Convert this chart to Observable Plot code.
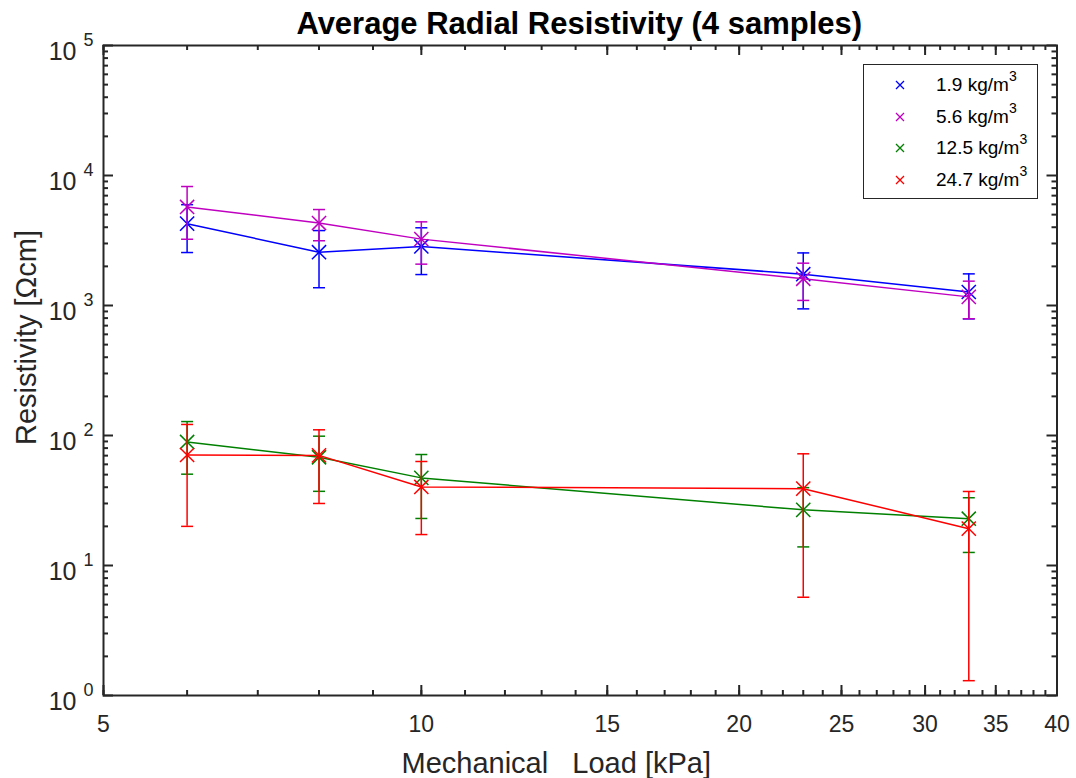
<!DOCTYPE html>
<html>
<head>
<meta charset="utf-8">
<script src="https://cdn.jsdelivr.net/npm/d3@7"></script>
<script src="https://cdn.jsdelivr.net/npm/@observablehq/plot@0.6"></script>
<style>
  html, body { margin: 0; padding: 0; background: #fff; }
  #wrap { position: relative; width: 1076px; height: 778px; font-family: "Liberation Sans", Arial, sans-serif; }
  #legend { position: absolute; left: 863px; top: 64px; width: 173px; height: 133px; border: 1px solid #262626; background: #fff; }
  .row { position: absolute; left: 0; height: 24px; width: 173px; }
  .row svg { position: absolute; left: 31px; top: 7px; }
  .row span { position: absolute; left: 72px; top: 0px; font-size: 19px; color: #000; white-space: nowrap; line-height: 24px; }
  .row sup { font-size: 14px; position: relative; top: -3px; vertical-align: super; line-height: 0; }
</style>
</head>
<body>
<div id="wrap"></div>
<script>
// ---- data ----
const loads = [6, 8, 10, 23, 33];                       // Mechanical load [kPa]
const densities = ["1.9", "5.6", "12.5", "24.7"];        // kg/m^3
const colors = ["#0000ff", "#c000c0", "#008000", "#ff0000"];

const mean19 = [4260, 2570, 2845, 1740, 1270];
const err19  = [1705, 1200, 1115, 798, 481];
const mean56 = [5730, 4310, 3240, 1605, 1165];
const err56  = [2497, 1162, 1160, 511, 374];
const mean125 = [89.2, 68.0, 47.2, 26.8, 22.9];
const err125  = [38.8, 30.8, 24.2, 12.9, 10.3];
const mean247 = [70.8, 70.3, 40.2, 39.0, 19.2];
const err247  = [50.8, 40.3, 22.9, 33.3, 17.9];

const xMajor = [5, 10, 15, 20, 25, 30, 35, 40];
const xMinor = d3.range(5, 41);
const yExp = [0, 1, 2, 3, 4, 5];
const yMinor = [1, 10, 100, 1000, 10000].flatMap(b => [2,3,4,5,6,7,8,9].map(k => k * b));

const titleText = "Average Radial Resistivity (4 samples)";
const xLabel = "Mechanical\u00a0\u00a0\u00a0Load [kPa]";
const yLabel = "Resistivity [\u03a9cm]";

// ---- build ----
const means = [mean19, mean56, mean125, mean247];
const errs = [err19, err56, err125, err247];
const seriesRows = means.map((m, s) => loads.map((x, i) => ({x, m: m[i], e: errs[s][i], s})));

const W = 1076, H = 778;
const mL = 103, mR = 19.5, mT = 45, mB = 83;
const pw = W - mL - mR, ph = H - mT - mB;
const axisColor = "#262626";
const cap = {draw(ctx) { ctx.moveTo(-6, 0); ctx.lineTo(6, 0); }};

const marks = [];
seriesRows.forEach((rows, s) => {
  const c = colors[s];
  marks.push(
    Plot.ruleX(rows, {x: "x", y1: d => d.m - d.e, y2: d => d.m + d.e, stroke: c, strokeWidth: 1.5}),
    Plot.dot(rows, {x: "x", y: d => d.m - d.e, symbol: cap, r: 6, stroke: c, fill: "none", strokeWidth: 1.5}),
    Plot.dot(rows, {x: "x", y: d => d.m + d.e, symbol: cap, r: 6, stroke: c, fill: "none", strokeWidth: 1.5}),
    Plot.line(rows, {x: "x", y: "m", stroke: c, strokeWidth: 1.5}),
    Plot.dot(rows, {x: "x", y: "m", symbol: "times", r: 6.5, stroke: c, fill: "none", strokeWidth: 1.5})
  );
});

const chart = Plot.plot({
  width: W, height: H,
  marginLeft: mL, marginRight: mR, marginTop: mT, marginBottom: mB,
  style: {fontFamily: '"Liberation Sans", Arial, sans-serif', background: "#fff", overflow: "visible"},
  x: {type: "log", domain: [5, 40], axis: null},
  y: {type: "log", domain: [1, 1e5], axis: null},
  marks: [
    // ticks (inward, all four sides)
    Plot.tickX(xMinor, {x: d => d, insetTop: ph - 5, stroke: axisColor, strokeWidth: 2}),
    Plot.tickX(xMajor, {x: d => d, insetTop: ph - 10, stroke: axisColor, strokeWidth: 2}),
    Plot.tickX(xMinor, {x: d => d, insetBottom: ph - 5, stroke: axisColor, strokeWidth: 2}),
    Plot.tickX(xMajor, {x: d => d, insetBottom: ph - 10, stroke: axisColor, strokeWidth: 2}),
    Plot.tickY(yMinor, {y: d => d, insetRight: pw - 5, stroke: axisColor, strokeWidth: 2}),
    Plot.tickY(yExp, {y: d => 10 ** d, insetRight: pw - 10, stroke: axisColor, strokeWidth: 2}),
    Plot.tickY(yMinor, {y: d => d, insetLeft: pw - 5, stroke: axisColor, strokeWidth: 2}),
    Plot.tickY(yExp, {y: d => 10 ** d, insetLeft: pw - 10, stroke: axisColor, strokeWidth: 2}),
    ...marks,
    Plot.frame({stroke: axisColor, strokeWidth: 2}),
    // tick labels
    Plot.text(xMajor, {x: d => d, frameAnchor: "bottom", text: d => String(d), lineAnchor: "top", dy: 20, fontSize: 23, fill: axisColor}),
    Plot.text(yExp, {y: d => 10 ** d, frameAnchor: "left", text: () => "10", textAnchor: "end", lineAnchor: "bottom", dx: -27, dy: 14, fontSize: 25, fill: axisColor}),
    Plot.text(yExp, {y: d => 10 ** d, frameAnchor: "left", text: d => String(d), textAnchor: "start", lineAnchor: "bottom", dx: -20, dy: 0, fontSize: 18, fill: axisColor}),
    // labels and title
    Plot.text([titleText], {frameAnchor: "top", text: d => d, lineAnchor: "bottom", dy: -12, dx: -1, fontSize: 31, fontWeight: "bold", fill: "#000"}),
    Plot.text([xLabel], {frameAnchor: "bottom", text: d => d, lineAnchor: "bottom", dy: 77, dx: -24, fontSize: 29, fill: axisColor}),
    Plot.text([yLabel], {frameAnchor: "left", text: d => d, rotate: -90, textAnchor: "middle", lineAnchor: "bottom", dx: -68, dy: -33, fontSize: 29, fill: axisColor})
  ]
});

const wrap = document.getElementById("wrap");
wrap.appendChild(chart);

// legend
const legend = document.createElement("div");
legend.id = "legend";
const rowTops = [8, 40, 71, 103];
densities.forEach((d, i) => {
  const row = document.createElement("div");
  row.className = "row";
  row.style.top = rowTops[i] + "px";
  row.innerHTML = `<svg width="10" height="10" viewBox="-5 -5 10 10"><path d="M-4,-4L4,4M-4,4L4,-4" stroke="${colors[i]}" stroke-width="1.3" fill="none"/></svg><span>${d} kg/m<sup>3</sup></span>`;
  legend.appendChild(row);
});
wrap.appendChild(legend);
</script>
</body>
</html>
